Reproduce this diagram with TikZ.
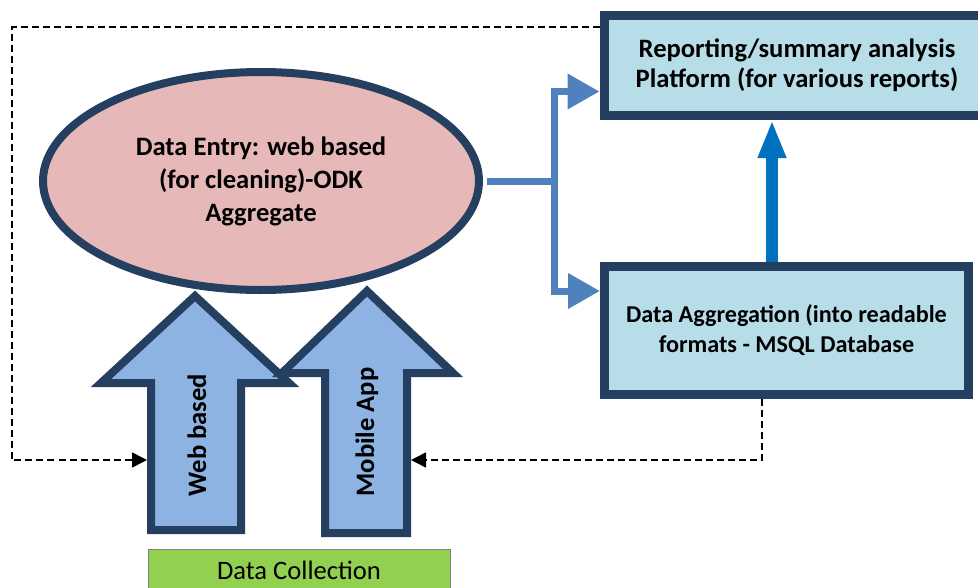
\documentclass[tikz,border=0pt]{standalone}
\usepackage{fontspec}
\setmainfont{Carlito}
\usetikzlibrary{shapes.geometric,arrows.meta}
\definecolor{navy}{HTML}{243F60}
\definecolor{boxblue}{HTML}{B7DDE8}
\definecolor{entrypink}{HTML}{E6B9B8}
\definecolor{arrowblue}{HTML}{8DB3E2}
\definecolor{linkblue}{HTML}{4F81BD}
\definecolor{upblue}{HTML}{0070C0}
\definecolor{collectgreen}{HTML}{92D050}
\begin{document}
\begin{tikzpicture}[x=1pt, y=-1pt]
    % Define styles
    \tikzset{
        box/.style={
            draw=navy,
            line width=9pt,
            fill=boxblue,
            align=center,
            font=\bfseries\fontsize{26.6}{30}\selectfont
        },
        entry/.style={
            ellipse,
            draw=navy,
            line width=8pt,
            fill=entrypink,
            inner sep=0pt,
            align=center,
            font=\bfseries\fontsize{26.6}{33}\selectfont
        },
        bigarrow/.style={
            draw=navy,
            line width=8pt,
            fill=arrowblue,
            line join=miter
        },
        branch/.style={
            draw=linkblue,
            line width=7pt,
            -{Triangle[length=32pt, width=34pt]}
        },
        feedback/.style={
            black,
            line width=1.6pt,
            dash pattern=on 7pt off 4pt,
            -{Triangle[length=15pt, width=15pt]}
        },
        label/.style={
            font=\bfseries\fontsize{26.6}{30}\selectfont
        }
    }
    \useasboundingbox (0,0) rectangle (978,587);
    \clip (0,0) rectangle (978,587);

    % Data entry and the two platforms
    \node[entry, minimum width=436pt, minimum height=218pt] (dataentry) at (261,181)
        {Data Entry: web based\\(for cleaning)-ODK\\Aggregate};
    \node[box, minimum width=386pt, minimum height=100pt] (reporting) at (797,65.5)
        {Reporting/summary analysis\\Platform (for various reports)};
    \node[box, minimum width=364pt, minimum height=128pt,
        font=\bfseries\fontsize{24.2}{30}\selectfont] (aggregation) at (786.5,330.5)
        {Data Aggregation (into readable\\formats - MSQL Database};

    % Collection arrows
    \draw[bigarrow] (195,296) -- (289,383) -- (241,383) -- (241,530)
        -- (151,530) -- (151,383) -- (101,383) -- cycle;
    \coordinate (webside) at (147,460);
    \draw[bigarrow] (367,291) -- (453,373) -- (407,373) -- (407,533)
        -- (325,533) -- (325,373) -- (282,373) -- cycle;
    \coordinate (mobileside) at (411,460);
    \node[label, rotate=90] (webtext) at (197,435) {Web based};
    \node[label, rotate=90] (mobiletext) at (367,432) {Mobile App};

    % Data collection
    \node[draw=gray, fill=collectgreen, minimum width=302pt, minimum height=42pt,
        font=\fontsize{26.6}{30}\selectfont] (collection) at (299,570) {Data Collection};

    % Connectors
    \draw[branch, shorten <=4pt] (dataentry.east) -- ++(71,0) coordinate (fork)
        |- ([yshift=-26pt]reporting.west);
    \draw[branch] (fork) |- ([yshift=39.5pt]aggregation.west);
    \draw[upblue, line width=12pt, -{Triangle[length=38pt, width=26pt]}]
        ([xshift=-14.5pt]aggregation.north) -- ([xshift=-14.5pt]aggregation.north |- reporting.south);

    % Feedback loops
    \draw[feedback] ([yshift=38.5pt]reporting.west) -| (12,460) -- (webside);
    \draw[feedback] ([xshift=-24.5pt]aggregation.south) |- (mobileside);
\end{tikzpicture}
\end{document}
